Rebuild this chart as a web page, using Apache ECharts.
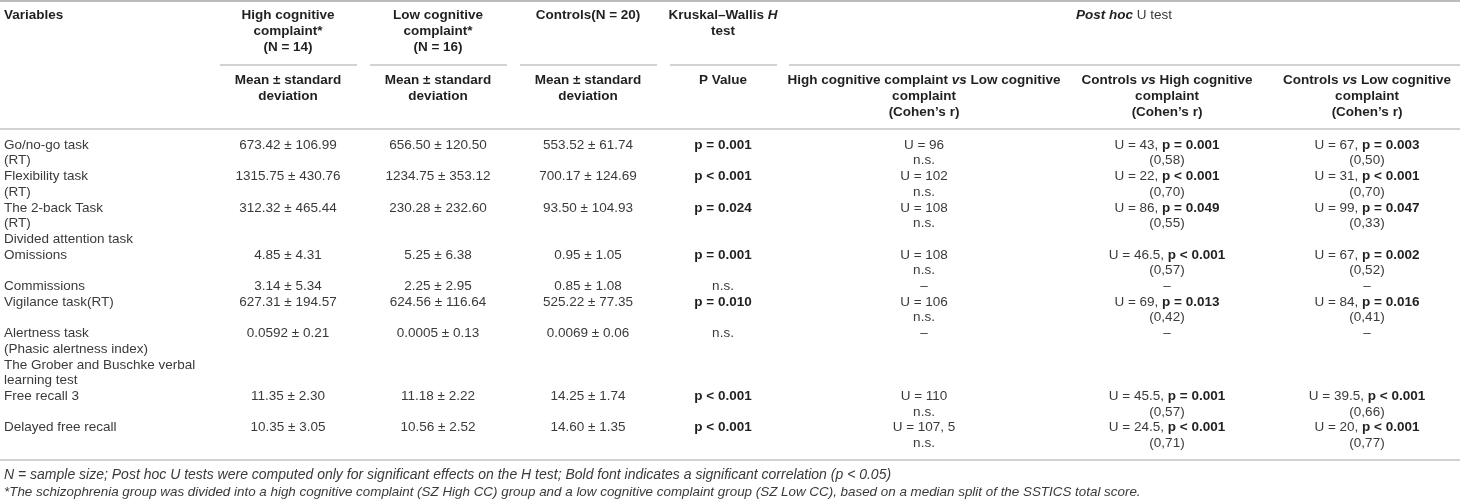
<!DOCTYPE html>
<html>
<head>
    <meta charset="UTF-8">
    <title>Attention and memory tasks by cognitive complaint group</title>
    <script type="text/javascript" src="https://cdn.jsdelivr.net/npm/echarts@6.0.0/dist/echarts.min.js"></script>
    <style>
        html, body { margin: 0; padding: 0; background: #ffffff; }
    </style>
</head>
<body>
    <div id="tbl" style="width:1460px; height:504px;"></div>
    <script>
        // ---- table content ----
        var variables = [
            'Go/no-go task', '(RT)', 'Flexibility task', '(RT)', 'The 2-back Task', '(RT)',
            'Divided attention task', 'Omissions', '', 'Commissions', 'Vigilance task(RT)', '',
            'Alertness task', '(Phasic alertness index)', 'The Grober and Buschke verbal',
            'learning test', 'Free recall 3', '', 'Delayed free recall'
        ];
        // line (within the variables column) where each measured row starts
        var rowLine = [0, 2, 4, 7, 9, 10, 12, 16, 18];

        var highCC = ['673.42 ± 106.99', '1315.75 ± 430.76', '312.32 ± 465.44', '4.85 ± 4.31', '3.14 ± 5.34',
                      '627.31 ± 194.57', '0.0592 ± 0.21', '11.35 ± 2.30', '10.35 ± 3.05'];
        var lowCC = ['656.50 ± 120.50', '1234.75 ± 353.12', '230.28 ± 232.60', '5.25 ± 6.38', '2.25 ± 2.95',
                     '624.56 ± 116.64', '0.0005 ± 0.13', '11.18 ± 2.22', '10.56 ± 2.52'];
        var controls = ['553.52 ± 61.74', '700.17 ± 124.69', '93.50 ± 104.93', '0.95 ± 1.05', '0.85 ± 1.08',
                        '525.22 ± 77.35', '0.0069 ± 0.06', '14.25 ± 1.74', '14.60 ± 1.35'];
        var kwP = ['p = 0.001', 'p < 0.001', 'p = 0.024', 'p = 0.001', 'n.s.', 'p = 0.010', 'n.s.', 'p < 0.001', 'p < 0.001'];

        var uHighLow = [96, 102, 108, 108, null, 106, null, 110, '107, 5'];
        var uCtrlHigh = [43, 22, 86, 46.5, null, 69, null, 45.5, 24.5];
        var pCtrlHigh = ['p = 0.001', 'p < 0.001', 'p = 0.049', 'p < 0.001', null, 'p = 0.013', null, 'p = 0.001', 'p < 0.001'];
        var rCtrlHigh = ['0,58', '0,70', '0,55', '0,57', null, '0,42', null, '0,57', '0,71'];
        var uCtrlLow = [67, 31, 99, 67, null, 84, null, 39.5, 20];
        var pCtrlLow = ['p = 0.003', 'p < 0.001', 'p = 0.047', 'p = 0.002', null, 'p = 0.016', null, 'p < 0.001', 'p < 0.001'];
        var rCtrlLow = ['0,50', '0,70', '0,33', '0,52', null, '0,41', null, '0,66', '0,77'];

        var firstHead = 'Variables';
        var groupHeads = [
            ['High cognitive', 'complaint*', '(N = 14)'],
            ['Low cognitive', 'complaint*', '(N = 16)'],
            ['Controls(N = 20)'],
            ['Kruskal–Wallis {bi|H}', 'test']
        ];
        var postHocHead = '{bi|Post hoc}{n| U test}';
        var subHeads = [
            ['Mean ± standard', 'deviation'],
            ['Mean ± standard', 'deviation'],
            ['Mean ± standard', 'deviation'],
            ['P Value'],
            ['High cognitive complaint {bi|vs} Low cognitive', 'complaint', '(Cohen’s r)'],
            ['Controls {bi|vs} High cognitive', 'complaint', '(Cohen’s r)'],
            ['Controls {bi|vs} Low cognitive', 'complaint', '(Cohen’s r)']
        ];
        var footnotes = [
            'N = sample size; Post hoc U tests were computed only for significant effects on the H test; Bold font indicates a significant correlation (p < 0.05)',
            '*The schizophrenia group was divided into a high cognitive complaint (SZ High CC) group and a low cognitive complaint group (SZ Low CC), based on a median split of the SSTICS total score.'
        ];

        // ---- layout ----
        var LEFT = 4;
        var colCenter = [null, 288, 438, 588, 723, 924, 1167, 1367];
        var postHocCenter = 1124;
        var headY = [15, 31, 47];
        var subY = [80, 96, 112];
        var rowTop = 145, lineStep = 15.7;
        var footY = [475, 492];
        var footSize = [14, 13.4];
        var rules = [
            [0, 1460, 1, 1.6],
            [220, 357, 65, 1.2], [370, 507, 65, 1.2], [520, 657, 65, 1.2], [670, 777, 65, 1.2], [789, 1460, 65, 1.2],
            [0, 1460, 129, 1.2],
            [0, 1460, 460, 1.2]
        ];

        function lineY(k) { return rowTop + lineStep * k; }

        // build text cells
        var cells = [];
        function cell(x, y, text, align, kind, size) {
            cells.push({x: x, y: y, text: text, align: align, kind: kind, size: size});
        }
        cell(LEFT, headY[0], firstHead, 'left', 'head');
        groupHeads.forEach(function (lines, c) {
            lines.forEach(function (t, i) { cell(colCenter[c + 1], headY[i], t, 'center', 'head'); });
        });
        cell(postHocCenter, headY[0], postHocHead, 'center', 'head');
        subHeads.forEach(function (lines, c) {
            lines.forEach(function (t, i) { cell(colCenter[c + 1], subY[i], t, 'center', 'head'); });
        });
        variables.forEach(function (t, i) {
            if (t) cell(LEFT, lineY(i), t, 'left', 'body');
        });
        function bold(t) { return t.indexOf('p') === 0 ? '{b|' + t + '}' : t; }
        rowLine.forEach(function (k, r) {
            var y = lineY(k);
            cell(colCenter[1], y, highCC[r], 'center', 'body');
            cell(colCenter[2], y, lowCC[r], 'center', 'body');
            cell(colCenter[3], y, controls[r], 'center', 'body');
            cell(colCenter[4], y, bold(kwP[r]), 'center', 'body');
            if (uHighLow[r] === null) {
                cell(colCenter[5], y, '–', 'center', 'body');
                cell(colCenter[6], y, '–', 'center', 'body');
                cell(colCenter[7], y, '–', 'center', 'body');
                return;
            }
            cell(colCenter[5], y, 'U = ' + uHighLow[r], 'center', 'body');
            cell(colCenter[5], lineY(k + 1), 'n.s.', 'center', 'body');
            cell(colCenter[6], y, 'U = ' + uCtrlHigh[r] + ', ' + bold(pCtrlHigh[r]), 'center', 'body');
            cell(colCenter[6], lineY(k + 1), '(' + rCtrlHigh[r] + ')', 'center', 'body');
            cell(colCenter[7], y, 'U = ' + uCtrlLow[r] + ', ' + bold(pCtrlLow[r]), 'center', 'body');
            cell(colCenter[7], lineY(k + 1), '(' + rCtrlLow[r] + ')', 'center', 'body');
        });
        footnotes.forEach(function (t, i) { cell(LEFT, footY[i], t, 'left', 'foot', footSize[i]); });

        var FONT = "'Liberation Sans', Arial, Helvetica, sans-serif";
        var INK = '#231f20';
        var baseStyle = {
            head: {fontSize: 13.5, fontWeight: 'bold', fontStyle: 'normal', fill: INK},
            body: {fontSize: 13.5, fontWeight: 'normal', fontStyle: 'normal', fill: '#3a3a3a'},
            foot: {fontSize: 13, fontWeight: 'normal', fontStyle: 'italic', fill: '#3a3a3a'}
        };
        var rich = {
            b: {fontFamily: FONT, fontSize: 13.5, fontWeight: 'bold', fill: INK},
            bi: {fontFamily: FONT, fontSize: 13.5, fontWeight: 'bold', fontStyle: 'italic', fill: INK},
            n: {fontFamily: FONT, fontSize: 13.5, fontWeight: 'normal', fill: '#3a3a3a'}
        };

        var chart_tbl = echarts.init(document.getElementById('tbl'), null, {renderer: 'canvas'});

        var option_tbl = {
            animation: false,
            backgroundColor: '#ffffff',
            grid: {left: 0, right: 0, top: 0, bottom: 0},
            xAxis: {type: 'value', min: 0, max: 1460, show: false},
            yAxis: {type: 'value', min: 0, max: 504, inverse: true, show: false},
            series: [
                {
                    type: 'custom',
                    name: 'rules',
                    silent: true,
                    data: rules.map(function (r) { return [r[0], r[1], r[2], r[3]]; }),
                    renderItem: function (params, api) {
                        var a = api.coord([api.value(0), api.value(2)]);
                        var b = api.coord([api.value(1), api.value(2)]);
                        return {
                            type: 'line',
                            shape: {x1: a[0], y1: a[1], x2: b[0], y2: b[1]},
                            style: {stroke: '#a6a6a6', lineWidth: api.value(3)}
                        };
                    }
                },
                {
                    type: 'custom',
                    name: 'cells',
                    silent: true,
                    data: cells.map(function (c) { return [c.x, c.y]; }),
                    renderItem: function (params, api) {
                        var c = cells[params.dataIndex];
                        var p = api.coord([api.value(0), api.value(1)]);
                        var s = baseStyle[c.kind];
                        return {
                            type: 'text',
                            x: p[0],
                            y: p[1],
                            style: {
                                text: c.text,
                                fontFamily: FONT,
                                fontSize: c.size || s.fontSize,
                                fontWeight: s.fontWeight,
                                fontStyle: s.fontStyle,
                                fill: s.fill,
                                align: c.align,
                                verticalAlign: 'middle',
                                textAlign: c.align,
                                textVerticalAlign: 'middle',
                                rich: rich
                            }
                        };
                    }
                }
            ]
        };
        chart_tbl.setOption(option_tbl);
    </script>
</body>
</html>
